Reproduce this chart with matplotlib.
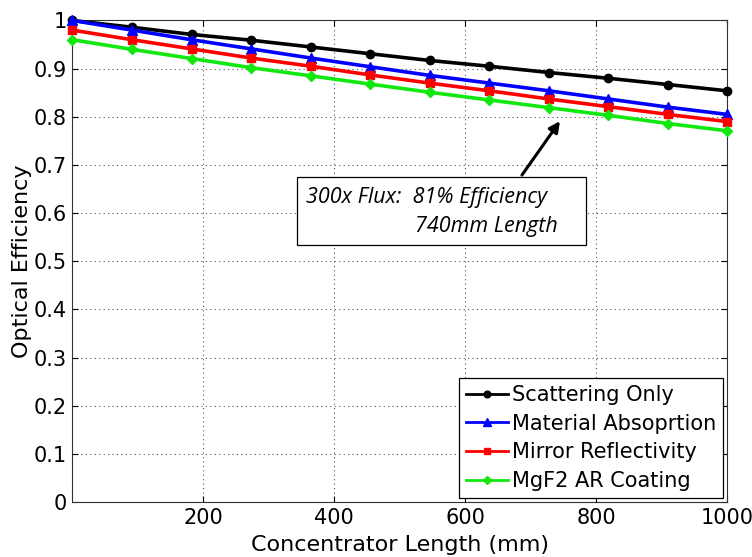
import matplotlib
matplotlib.use("Agg")
import matplotlib.pyplot as plt
from matplotlib.patches import Rectangle

# ---- data ----
length_mm = [1, 92, 183, 274, 365, 455, 546, 637, 728, 819, 910, 1000]
scattering = [1.000, 0.986, 0.971, 0.959, 0.945, 0.931, 0.917, 0.905, 0.892, 0.880, 0.867, 0.854]
absorption = [1.000, 0.980, 0.960, 0.941, 0.922, 0.904, 0.886, 0.870, 0.854, 0.837, 0.820, 0.805]
mirror     = [0.980, 0.960, 0.941, 0.922, 0.905, 0.887, 0.870, 0.854, 0.837, 0.821, 0.805, 0.790]
mgf2       = [0.960, 0.940, 0.921, 0.902, 0.885, 0.868, 0.851, 0.835, 0.819, 0.803, 0.786, 0.771]
series_labels = ["Scattering Only", "Material Absoprtion", "Mirror Reflectivity", "MgF2 AR Coating"]
x_ticks = [200, 400, 600, 800, 1000]
y_ticks = [0, 0.1, 0.2, 0.3, 0.4, 0.5, 0.6, 0.7, 0.8, 0.9, 1.0]
y_tick_labels = ["0", "0.1", "0.2", "0.3", "0.4", "0.5", "0.6", "0.7", "0.8", "0.9", "1"]

plt.rcParams['font.family'] = ['DejaVu Sans']

fig = plt.figure(figsize=(7.52, 5.57), dpi=100)
ax = fig.add_axes([0.0964, 0.0987, 0.8704, 0.8645])

styles = [
    dict(color='#000000', marker='o', ms=6),
    dict(color='#0000ff', marker='^', ms=7),
    dict(color='#ff0000', marker='s', ms=6),
    dict(color='#10e810', marker='D', ms=5),
]
for ys, lab, st in zip([scattering, absorption, mirror, mgf2], series_labels, styles):
    ax.plot(length_mm, ys, color=st['color'], lw=2.6, marker=st['marker'],
            ms=st['ms'], mfc=st['color'], mec=st['color'], label=lab, clip_on=False, zorder=3)

ax.set_xlim(length_mm[0], length_mm[-1])
ax.set_ylim(0, 1)
ax.set_xticks(x_ticks)
ax.set_xticklabels([str(t) for t in x_ticks])
ax.set_yticks(y_ticks)
ax.set_yticklabels(y_tick_labels)
ax.tick_params(direction='in', top=True, right=True, labelsize=15, length=4, width=0.8, pad=4)
ax.grid(True, linestyle=(0, (1, 3)), color='#555555', lw=0.8)
for s in ax.spines.values():
    s.set_linewidth(0.8)
    s.set_color('#333333')

ax.set_xlabel("Concentrator Length (mm)", fontsize=16, labelpad=5)
ax.set_ylabel("Optical Efficiency", fontsize=16, labelpad=1)

leg = ax.legend(loc='lower right', fontsize=15, frameon=True, fancybox=False,
                edgecolor='black', framealpha=1, borderaxespad=0.2,
                handlelength=2.0, handletextpad=0.2, labelspacing=0.42,
                borderpad=0.32, markerscale=0.8)
leg.get_frame().set_linewidth(0.9)
for h in leg.get_lines():
    h.set_linewidth(2.0)

# annotation box
ax.add_patch(Rectangle((343, 0.534), 441.6, 0.141, facecolor='white',
                       edgecolor='black', lw=0.9, zorder=5))
ax.text(357.8, 0.621, "300x Flux:  81% Efficiency", fontsize=15.5, style='italic',
        family=['Open Sans', 'DejaVu Sans'], zorder=6, va='baseline')
ax.text(523, 0.561, "740mm Length", fontsize=15.5, style='italic',
        family=['Open Sans', 'DejaVu Sans'], zorder=6, va='baseline')
ax.annotate("", xy=(745, 0.791), xytext=(687, 0.679),
            arrowprops=dict(arrowstyle='-|>', color='black', lw=2.2, mutation_scale=16,
                            shrinkA=0, shrinkB=0), zorder=6)

fig.savefig("out.png", dpi=100)
